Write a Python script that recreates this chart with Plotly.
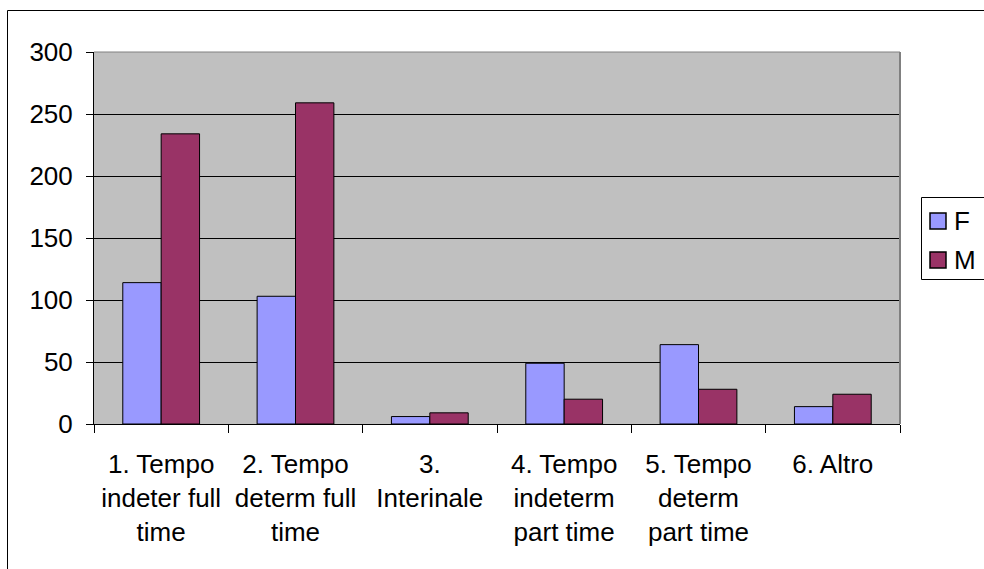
import plotly.graph_objects as go

categories = ["1. Tempo<br>indeter full<br>time", "2. Tempo<br>determ full<br>time", "3.<br>Interinale",
              "4. Tempo<br>indeterm<br>part time", "5. Tempo<br>determ<br>part time", "6. Altro"]
series_names = ["F", "M"]
f_values = [114, 103, 6, 49, 64, 14]
m_values = [234, 259, 9, 20, 28, 24]
series_colors = ["#9999FF", "#993366"]
y_ticks = [0, 50, 100, 150, 200, 250, 300]

FONT = dict(family="Liberation Sans, Arial, sans-serif", size=26, color="black")

fig = go.Figure()
for name, vals, col in zip(series_names, [f_values, m_values], series_colors):
    fig.add_trace(go.Bar(name=name, x=categories, y=vals,
                         marker=dict(color=col, line=dict(color="black", width=1))))

# body margin is removed in the page, so the figure fills the whole window
W, H = 984, 569
L, T = 94, 52
R = W - 900
B = H - 424
pw, ph = W - L - R, H - T - B

def px_x(p):
    return (p - L) / pw

def px_y(p):
    return (H - B - p) / ph

shapes = [
    dict(type="line", xref="paper", yref="paper", x0=0, x1=1, y0=1, y1=1,
         line=dict(color="#808080", width=1)),
    dict(type="line", xref="paper", yref="paper", x0=1, x1=1, y0=0, y1=1,
         line=dict(color="#808080", width=2)),
    # outer chart border
    dict(type="rect", xref="paper", yref="paper",
         x0=px_x(7.5), x1=px_x(1000), y0=px_y(1000), y1=px_y(10.5),
         line=dict(color="black", width=1)),
    # legend box
    dict(type="rect", xref="paper", yref="paper",
         x0=px_x(921.5), x1=px_x(1000), y0=px_y(279.5), y1=px_y(197.5),
         line=dict(color="black", width=1), fillcolor="white"),
]
annotations = []
row_centers = [221, 260]
for name, col, cy in zip(series_names, series_colors, row_centers):
    shapes.append(dict(type="rect", xref="paper", yref="paper",
                       x0=px_x(930), x1=px_x(946), y0=px_y(cy + 8), y1=px_y(cy - 8),
                       line=dict(color="black", width=1.5), fillcolor=col))
    annotations.append(dict(text=name, xref="paper", yref="paper",
                            x=px_x(952), y=px_y(cy), xanchor="left", yanchor="middle",
                            showarrow=False, font=FONT))

fig.update_layout(
    width=W, height=H,
    margin=dict(l=L, r=R, t=T, b=B, pad=0, autoexpand=False),
    paper_bgcolor="white", plot_bgcolor="#C0C0C0",
    font=FONT,
    barmode="group", bargap=1.5 / 3.5, bargroupgap=0,
    showlegend=False,
    xaxis=dict(type="category", tickson="boundaries", ticks="outside", ticklen=8,
               tickcolor="black", showline=True, linecolor="black", linewidth=1,
               showgrid=False, tickfont=FONT, ticklabelstandoff=17, fixedrange=True),
    yaxis=dict(range=[0, 300], tickvals=y_ticks, ticks="outside", ticklen=7,
               tickcolor="black", showline=True, linecolor="black", linewidth=1,
               showgrid=True, gridcolor="black", gridwidth=1, zeroline=False,
               tickfont=FONT, ticklabelstandoff=8, fixedrange=True),
    shapes=shapes,
    annotations=annotations,
)

fig.write_html("out.html",
               config={"displayModeBar": False},
               post_script="document.body.style.margin='0';document.body.style.overflow='hidden';")
